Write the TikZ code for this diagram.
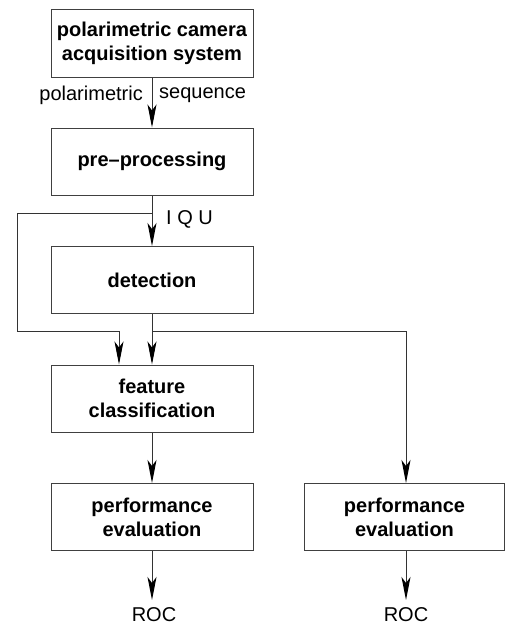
\documentclass[tikz,border=0pt]{standalone}
\usepackage{fontspec}
\setmainfont{Liberation Sans}
\usetikzlibrary{arrows.meta}
\begin{document}
\begin{tikzpicture}[x=1pt,y=-1pt,
  box/.style={draw=black!75,line width=1pt,minimum width=202pt,minimum height=67pt,inner sep=0pt,align=center,font=\fontsize{20}{24}\selectfont\bfseries},
  lbl/.style={font=\fontsize{20}{24}\selectfont,inner sep=0pt},
  arr/.style={draw=black!80,line width=1pt,-{Stealth[length=23pt,width=9pt,inset=6pt,black]}},
  ln/.style={draw=black!80,line width=1pt}]
\useasboundingbox (0,0) rectangle (505,626);
\node[box] (acq) at (152,43.5) {polarimetric camera\\acquisition system};
\node[box] (pre) at (152,161.5) {pre–processing};
\node[box] (det) at (152,280) {detection};
\node[box] (feat) at (152,398.5) {feature\\classification};
\node[box] (perfa) at (152,517) {performance\\evaluation};
\node[box,minimum width=200pt] (perfb) at (404.5,517) {performance\\evaluation};
\node[lbl,anchor=base] (roca) at (154,621.5) {ROC};
\node[lbl,anchor=base] (rocb) at (406,621.5) {ROC};
\node[lbl,anchor=east] (lp) at (143,95) {polarimetric};
\node[lbl,anchor=west] (ls) at (159,95) {sequence};
\node[lbl,anchor=west] (liqu) at (166,219) {I Q U};
\coordinate (s1) at (152,213);
\coordinate (s2) at (152,331);
\coordinate (lc) at (17,331);
\coordinate (ta) at (152,600);
\coordinate (tb) at (406,600);
\draw[arr] (acq.south) -- (pre.north);
\draw[arr] (pre.south) -- (det.north);
\draw[arr] (det.south) -- (feat.north);
\draw[ln] (s1) -| (lc);
\draw[arr] (lc) -| ([xshift=-33pt]feat.north);
\draw[arr] (s2) -| ([xshift=1.5pt]perfb.north);
\draw[arr] (feat.south) -- (perfa.north);
\draw[arr] (perfa.south) -- (ta);
\draw[arr] ([xshift=1.5pt]perfb.south) -- (tb);
\end{tikzpicture}
\end{document}
